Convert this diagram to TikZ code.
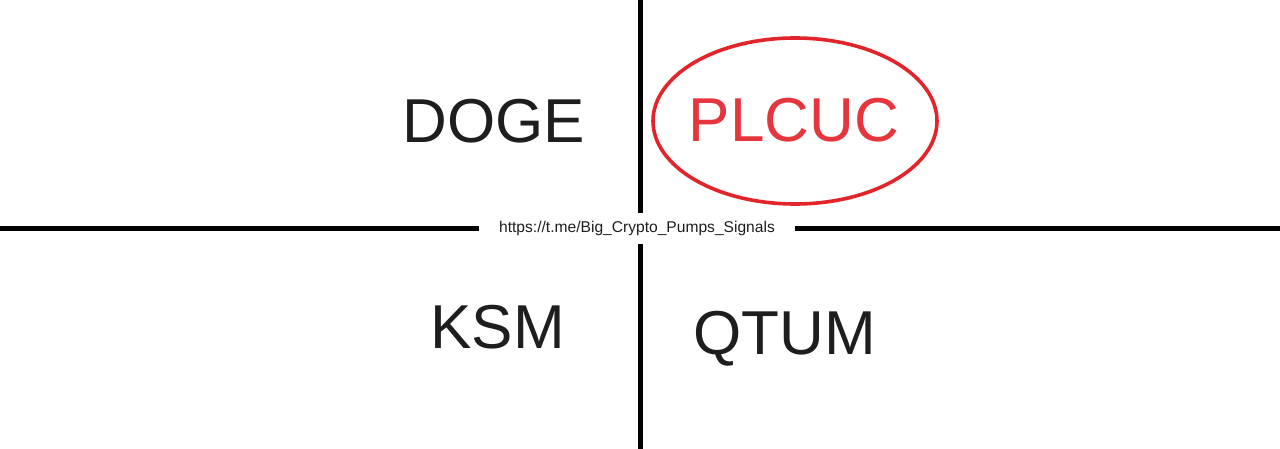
\documentclass[tikz,border=0pt]{standalone}
\usepackage{fontspec}
\setmainfont{Liberation Sans}
\usepackage{xcolor}
\usetikzlibrary{calc, positioning}
\definecolor{inkgray}{HTML}{1E1E1E}
\definecolor{ringred}{HTML}{E1252B}
\definecolor{textred}{HTML}{E6363D}

\begin{document}
\begin{tikzpicture}[
    x=1pt, y=-1pt,
    coin node/.style={anchor=base, inner sep=0pt, text=inkgray, font=\fontsize{62}{70}\selectfont},
    link node/.style={inner xsep=19.5pt, inner ysep=0pt, minimum height=30pt, text height=11pt, text depth=3pt, text=inkgray, font=\fontsize{15.6}{18}\selectfont},
    axis line/.style={black, line width=4.5pt},
    ring/.style={ringred, line width=3.6pt}
]
\useasboundingbox[fill=white] (0,0) rectangle (1280,449);

% Main Nodes
\node[coin node] (doge) at (494,143) {DOGE};
\node[coin node, text=textred] (plcuc) at (794,142) {PLCUC};
\node[coin node] (ksm) at (497.5,348) {KSM};
\node[coin node] (qtum) at (785,354) {QTUM};

% Link in the middle
\node[link node] (url) at (637,228.5) {https://t.me/Big\_Crypto\_Pumps\_Signals};

% Axis ends
\coordinate (left) at (0,228.5);
\coordinate (right) at (1280,228.5);
\coordinate (top) at (640.5,0);
\coordinate (bottom) at (640.5,449);

% Axis lines
\draw[axis line] (left) -- (url.west);
\draw[axis line] (url.east) -- (right);
\draw[axis line] (top) -- (top |- url.north);
\draw[axis line] (top |- url.south) -- (bottom);

% Circle round the pick
\draw[ring] (795,121) ellipse [x radius=142, y radius=83];
\end{tikzpicture}
\end{document}
